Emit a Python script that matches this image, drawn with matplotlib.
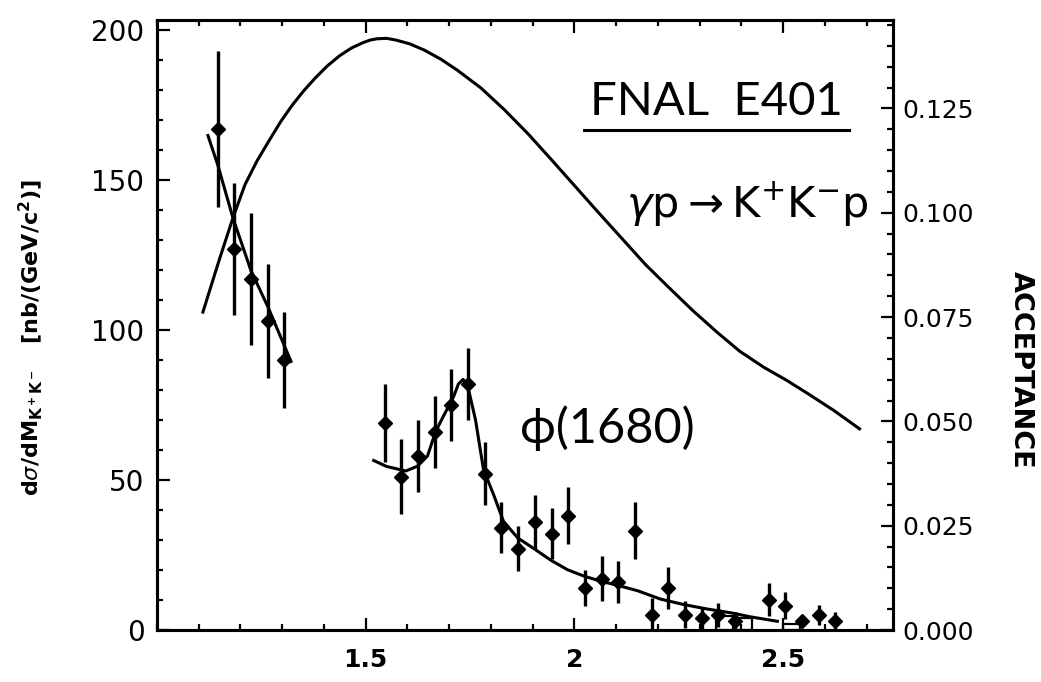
import matplotlib
matplotlib.use('Agg')
import matplotlib.pyplot as plt
from matplotlib.lines import Line2D
from matplotlib.transforms import IdentityTransform
from matplotlib.ticker import MultipleLocator, FormatStrFormatter

# ---- data ----
# low-mass data points (left cluster)
x_low = [1.145, 1.185, 1.225, 1.265, 1.305]
y_low = [167, 127, 117, 103, 90]
e_low = [26, 22, 22, 19, 16]

# phi(1680) region data points
x_pts = [1.545, 1.585, 1.625, 1.665, 1.705, 1.745, 1.785, 1.825, 1.865, 1.905,
         1.945, 1.985, 2.025, 2.065, 2.105, 2.145, 2.185, 2.225, 2.265, 2.305,
         2.345, 2.385, 2.465, 2.505, 2.545, 2.585, 2.625]
y_pts = [69, 51, 58, 66, 75, 82, 52, 34, 27, 36,
         32, 38, 14, 17, 16, 33, 5, 14, 5, 4,
         5, 3, 10, 8, 3, 5, 3]
e_pts = [13, 12.5, 12, 12, 12, 12, 10.5, 8.5, 7.5, 9,
         8.5, 9.5, 6, 7.5, 7, 9.5, 5.5, 7, 4.5, 3.7,
         4, 3, 5.5, 4.5, 2, 3.3, 3]

# fit through low-mass points
x_lowfit = [1.122, 1.146, 1.182, 1.225, 1.266, 1.321]
y_lowfit = [164.8, 154.8, 137.3, 119.8, 107.6, 89.5]

# phi(1680) fit curve
x_fit = [1.519, 1.55, 1.596, 1.624, 1.648, 1.667, 1.687, 1.71, 1.722, 1.733,
         1.744, 1.763, 1.782, 1.806, 1.83, 1.864, 1.902, 1.943, 1.983, 2.022,
         2.062, 2.103, 2.151, 2.206, 2.261, 2.318, 2.38, 2.421, 2.486]
y_fit = [56.5, 54.5, 53, 54.6, 58, 66, 71.5, 77.6, 82, 83.5,
         81.5, 70, 53.5, 45.2, 36.2, 30.7, 27.2, 23.3, 20.1, 18,
         16.3, 14.9, 13.1, 10.3, 8.5, 7, 5.6, 4.4, 2.9]

# acceptance curve (right axis)
x_acc = [1.110, 1.150, 1.183, 1.211, 1.240, 1.268, 1.296, 1.324, 1.352, 1.380,
         1.408, 1.437, 1.466, 1.494, 1.511, 1.527, 1.550, 1.572, 1.605, 1.640,
         1.680, 1.719, 1.776, 1.832, 1.889, 1.945, 2.001, 2.057, 2.114, 2.170,
         2.227, 2.283, 2.340, 2.396, 2.453, 2.509, 2.563, 2.620, 2.683]
y_acc = [0.0762, 0.0890, 0.0991, 0.1068, 0.1125, 0.1172, 0.1218, 0.1258, 0.1293, 0.1324,
         0.1352, 0.1376, 0.1395, 0.1408, 0.1414, 0.1417, 0.1418, 0.1414, 0.1405, 0.1390,
         0.1368, 0.1342, 0.1299, 0.1247, 0.1189, 0.1127, 0.1064, 0.1001, 0.0938, 0.0876,
         0.0820, 0.0766, 0.0715, 0.0668, 0.0630, 0.0598, 0.0564, 0.0527, 0.0482]

# small background boxes near the axis
x_box = [2.359, 2.405, 2.52]
h_box = [4.5, 4.0, 2.0]

x_ticks = [1.5, 2.0, 2.5]
x_ticklabels = ['1.5', '2', '2.5']

# ---- figure ----
W, H = 1041, 682
fig = plt.figure(figsize=(W / 100, H / 100), dpi=100)
L, R, T, B = 157, 893, 20, 630
ax = fig.add_axes([L / W, 1 - B / H, (R - L) / W, (B - T) / H])
ax2 = ax.twinx()

ax.set_xlim(1.0, 2.763)
ax.set_ylim(0, 203.3)
ax2.set_ylim(0, 0.1462)

lw = 2.2
ax.plot(x_lowfit, y_lowfit, color='k', lw=lw)
ax.plot(x_fit, y_fit, color='k', lw=lw)
ax2.plot(x_acc, y_acc, color='k', lw=lw)
ax.bar(x_box, h_box, width=0.04, fill=False, edgecolor='k', lw=1.6)

ax.errorbar(x_low, y_low, yerr=e_low, fmt='D', color='k', ms=7,
            elinewidth=2.4, capsize=0)
ax.errorbar(x_pts, y_pts, yerr=e_pts, fmt='D', color='k', ms=7,
            elinewidth=2.4, capsize=0)

for a in (ax, ax2):
    for s in a.spines.values():
        s.set_linewidth(2.2)

ax.set_xticks(x_ticks)
ax.set_xticklabels(x_ticklabels, fontsize=18, fontweight='bold')
ax.xaxis.set_minor_locator(MultipleLocator(0.1))
ax.tick_params(axis='x', which='both', direction='in', top=True, bottom=True,
               width=1.6)
ax.tick_params(axis='x', which='major', length=9, pad=13)
ax.tick_params(axis='x', which='minor', length=4)

ax.yaxis.set_major_locator(MultipleLocator(50))
ax.yaxis.set_minor_locator(MultipleLocator(10))
ax.tick_params(axis='y', which='both', direction='in', left=True, right=False,
               width=1.6, labelsize=20)
ax.tick_params(axis='y', which='major', length=9, pad=9)
ax.tick_params(axis='y', which='minor', length=4)

ax2.yaxis.set_major_locator(MultipleLocator(0.025))
ax2.yaxis.set_minor_locator(MultipleLocator(0.005))
ax2.yaxis.set_major_formatter(FormatStrFormatter('%.3f'))
ax2.tick_params(axis='y', which='both', direction='in', width=1.6, labelsize=18)
ax2.tick_params(axis='y', which='major', length=9, pad=7)
ax2.tick_params(axis='y', which='minor', length=4)

fig.text(31 / W, 1 - 338 / H,
         r'd$\sigma$/dM$_{\mathbf{K^+K^-}}$   [nb/(GeV/c$^\mathbf{2}$)]',
         rotation=90, ha='center', va='center', fontsize=16, fontweight='bold')
fig.text(1021 / W, 1 - 370 / H, 'ACCEPTANCE', rotation=-90,
         ha='center', va='center', fontsize=19.5, fontweight='bold')

hand = ['Lato', 'DejaVu Sans']
t1 = ax.text(2.34, 176, 'FNAL  E401', fontsize=34, family=hand,
             ha='center', va='center', color='k')
ax.text(2.414, 141.7, r'$\gamma\mathrm{p} \rightarrow \mathrm{K^{+}K^{-}p}$',
        fontsize=31, ha='center', va='center', color='k')
ax.text(2.079, 67.3, '\u03d5(1680)', fontsize=35, family=hand,
        ha='center', va='center', color='k')

fig.canvas.draw()
bb = t1.get_window_extent()
fig.add_artist(Line2D([bb.x0 - 6, bb.x1 + 6], [bb.y0 - 7, bb.y0 - 7],
                      transform=IdentityTransform(), color='k', lw=2.2))

fig.savefig('out.png', dpi=100)
